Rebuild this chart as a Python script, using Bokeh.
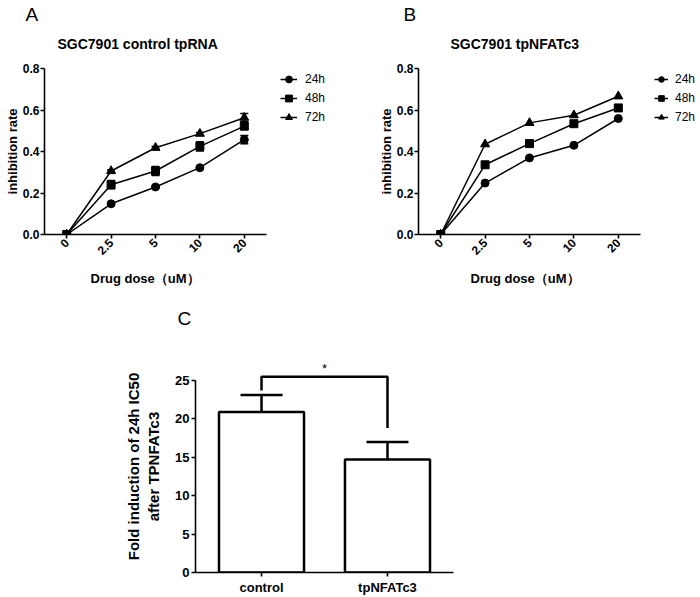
import numpy as np
from bokeh.plotting import figure
from bokeh.models import (ColumnDataSource, Legend, LegendItem, Title, FixedTicker,
                          PrintfTickFormatter, Whisker, TeeHead, FactorRange, Range1d)
from bokeh.layouts import column, row
from bokeh.embed import file_html
from bokeh.resources import INLINE
from bokeh.core.properties import value
from bokeh.transform import dodge

FONT = "Liberation Sans"

# ---------------- data ----------------
doses = ["0", "2.5", "5", "10", "20"]
series = ["24h", "48h", "72h"]
markers = ["circle", "square", "triangle"]
marker_sizes = [8, 8, 9]

ctrl_24 = [0.0, 0.148, 0.229, 0.322, 0.457]
ctrl_48 = [0.0, 0.240, 0.306, 0.425, 0.522]
ctrl_72 = [0.0, 0.306, 0.418, 0.486, 0.563]
ctrl_24_err = [0.0, 0.005, 0.005, 0.006, 0.020]
ctrl_48_err = [0.0, 0.020, 0.022, 0.022, 0.014]
ctrl_72_err = [0.0, 0.006, 0.006, 0.006, 0.020]

nfat_24 = [0.0, 0.248, 0.369, 0.430, 0.559]
nfat_48 = [0.0, 0.336, 0.438, 0.534, 0.610]
nfat_72 = [0.0, 0.435, 0.538, 0.575, 0.666]

y_ticks_line = [0.0, 0.2, 0.4, 0.6, 0.8]

groups = ["control", "tpNFATc3"]
ic50_fold = [20.9, 14.7]
ic50_err = [2.2, 2.3]
y_ticks_bar = [0, 5, 10, 15, 20, 25]
bracket_y = [23.7, 25.5, 25.5, 18.8]
star_y = 26.5

CAT_PX = 44.4  # pixel width of one dose slot


def style_axes(p, tick_size="12px", label_size="13px"):
    for ax in p.axis:
        ax.axis_line_width = 1.6
        ax.axis_line_color = "black"
        ax.major_tick_line_width = 1.6
        ax.major_tick_line_color = "black"
        ax.major_tick_out = 4
        ax.major_tick_in = 0
        ax.minor_tick_line_color = None
        ax.major_label_text_font = FONT
        ax.major_label_text_font_style = "bold"
        ax.major_label_text_font_size = tick_size
        ax.major_label_text_color = "black"
        ax.axis_label_text_font = FONT
        ax.axis_label_text_font_style = "bold"
        ax.axis_label_text_font_size = label_size
        ax.axis_label_text_color = "black"
        ax.major_label_standoff = 1
        ax.axis_label_standoff = 0
    p.grid.visible = False
    p.outline_line_color = None


def line_panel(title, letter, vals, errs, width, left, bottom, title_dx, letter_dx,
               xlabel_dx, legend_dx, glyph_w, label_gap):
    xs = list(range(len(doses)))
    frame_w = width - left
    x_end = -0.5 + frame_w / CAT_PX
    p = figure(x_range=Range1d(-0.5, x_end), y_range=Range1d(0, 0.8),
               width=width, frame_height=166,
               min_border_left=left, min_border_right=0,
               min_border_top=68, min_border_bottom=bottom,
               output_backend="svg", toolbar_location=None)
    items = []
    for name, v, m, ms, i in zip(series, vals, markers, marker_sizes, range(3)):
        l = p.line(x=xs, y=v, line_color="black", line_width=1.5)
        s = p.scatter(x=xs, y=v, marker=m, size=ms, fill_color="black",
                      line_color="black")
        if errs is not None:
            e = errs[i]
            src = ColumnDataSource(dict(x=xs,
                                        lo=[a - b for a, b in zip(v, e)],
                                        hi=[a + b for a, b in zip(v, e)]))
            w = Whisker(base="x", lower="lo", upper="hi", source=src,
                        line_color="black", line_width=1.5,
                        upper_head=TeeHead(size=8, line_color="black", line_width=1.5),
                        lower_head=TeeHead(size=8, line_color="black", line_width=1.5))
            p.add_layout(w)
        items.append(LegendItem(label=name, renderers=[l, s]))
    leg = Legend(items=items, location=(legend_dx, 108), border_line_color=None,
                 background_fill_alpha=0, padding=0, margin=0, spacing=1,
                 glyph_width=glyph_w, glyph_height=18, label_standoff=label_gap,
                 label_text_font=FONT, label_text_font_size="12px",
                 label_text_color="black")
    p.add_layout(leg, "center")

    p.yaxis.axis_label = "inhibition rate"
    p.xaxis.ticker = FixedTicker(ticks=xs)
    p.xaxis.major_label_overrides = {x: d for x, d in zip(xs, doses)}
    p.xaxis.bounds = (-0.5, len(doses) - 0.5)
    p.xaxis.major_label_orientation = np.pi / 4
    p.yaxis.ticker = FixedTicker(ticks=y_ticks_line)
    p.yaxis.formatter = PrintfTickFormatter(format="%.1f")
    style_axes(p)
    p.xaxis.major_label_standoff = 2

    # x-axis title, placed under the axis line (not under the wider frame)
    p.add_layout(Title(text="Drug dose（uM）", align="left", offset=xlabel_dx,
                       vertical_align="top", standoff=19, text_font=FONT,
                       text_font_size="13px", text_font_style="bold",
                       text_color="black"), "below")

    p.add_layout(Title(text=title, align="left", offset=title_dx, vertical_align="top",
                       standoff=30, text_font=FONT, text_font_size="14px",
                       text_font_style="bold", text_color="black"), "above")
    p.add_layout(Title(text=letter, align="left", offset=letter_dx, vertical_align="middle",
                       standoff=-10, text_font=FONT, text_font_size="19px",
                       text_font_style="normal", text_color="black"), "above")
    return p


pA = line_panel("SGC7901 control tpRNA", "A",
                [ctrl_24, ctrl_48, ctrl_72],
                [ctrl_24_err, ctrl_48_err, ctrl_72_err],
                width=374, left=44, bottom=112, title_dx=13, letter_dx=-19,
                xlabel_dx=46, legend_dx=236, glyph_w=17, label_gap=8)
# panel letter "C" sits in the gap between the rows (below panel A's axis title)
pA.add_layout(Title(text="C", align="left", offset=133, vertical_align="top",
                    standoff=20, text_font=FONT, text_font_size="19px",
                    text_font_style="normal", text_color="black"), "below")

pB = line_panel("SGC7901 tpNFATc3", "B",
                [nfat_24, nfat_48, nfat_72], None,
                width=326, left=44, bottom=112, title_dx=32, letter_dx=-15,
                xlabel_dx=52, legend_dx=236, glyph_w=14, label_gap=7)

# ---------------- panel C ----------------
pC = figure(x_range=FactorRange(factors=groups, range_padding=0.024),
            y_range=Range1d(0, 27.6),
            width=473, height=251,
            min_border_left=195, min_border_right=20,
            min_border_top=14, min_border_bottom=25,
            output_backend="svg", toolbar_location=None)
srcC = ColumnDataSource(dict(g=groups, v=ic50_fold,
                             hi=[a + b for a, b in zip(ic50_fold, ic50_err)]))
pC.vbar(x="g", top="v", width=0.675, source=srcC, fill_color="white",
        line_color="black", line_width=2.5)
pC.add_layout(Whisker(base="g", lower="v", upper="hi", source=srcC,
                      line_color="black", line_width=2.5,
                      upper_head=TeeHead(size=42, line_color="black", line_width=2.5),
                      lower_head=None))
pC.line(x=[groups[0], groups[0], groups[1], groups[1]], y=bracket_y,
        line_color="black", line_width=2.5)
star_src = ColumnDataSource(dict(g=[groups[0]], y=[star_y], t=["*"]))
pC.text(x=dodge("g", 0.5, range=pC.x_range), y="y", text="t", source=star_src,
        text_align="center", text_baseline="middle", text_font=value(FONT),
        text_font_size="13px", text_color="black")
pC.yaxis.ticker = FixedTicker(ticks=y_ticks_bar)
pC.yaxis.bounds = (0, 25)
pC.yaxis.axis_label = "Fold induction of 24h IC50\nafter TPNFATc3"
style_axes(pC, tick_size="13px", label_size="15px")
pC.yaxis.axis_label_standoff = 10
pC.yaxis.major_label_standoff = 2
pC.xaxis.major_label_standoff = 3

layout = column(row(pA, pB), pC)
open("out.html", "w").write(file_html(layout, INLINE))
